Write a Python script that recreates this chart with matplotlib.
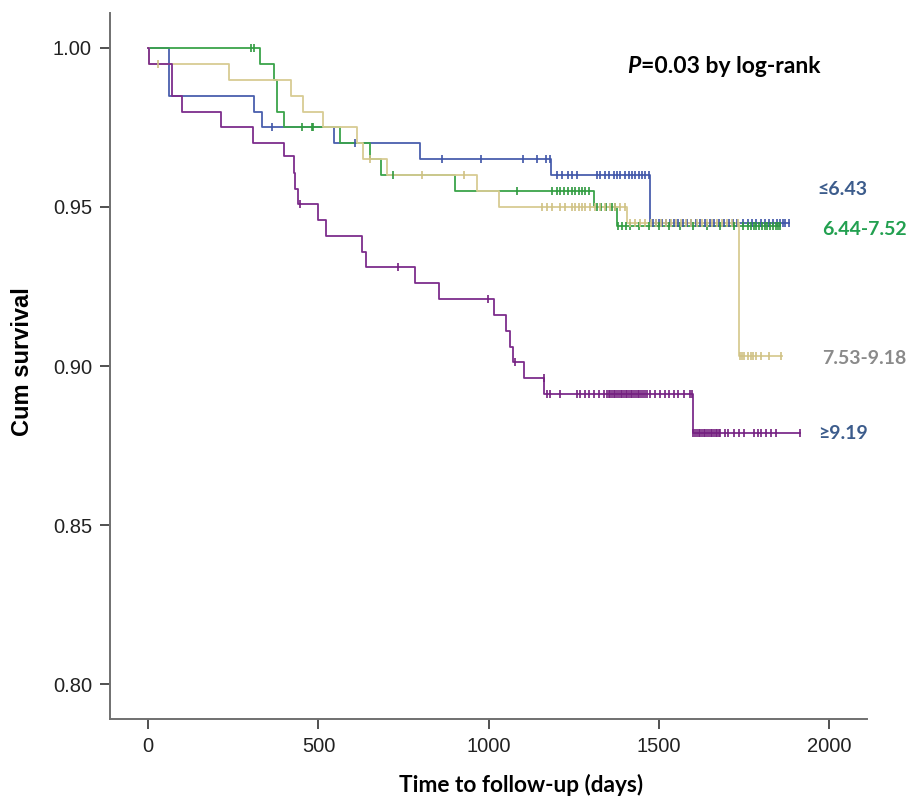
import matplotlib
matplotlib.use("Agg")
import matplotlib.pyplot as plt

# Kaplan-Meier steps: (day, cumulative survival)
blue_t = [0, 60, 311, 334, 546, 797, 1184, 1474, 1880]
blue_s = [1.000, 0.985, 0.980, 0.975, 0.970, 0.965, 0.960, 0.945, 0.945]
blue_c = [363, 608, 862, 977, 1100, 1141, 1169, 1179,
          1200, 1215, 1234, 1244, 1259, 1318, 1328, 1342, 1352, 1367, 1377, 1386,
          1401, 1411, 1421, 1430, 1440, 1450, 1460, 1470,
          1482, 1492, 1500, 1510, 1520, 1532, 1545, 1556, 1570, 1582, 1595, 1608,
          1620, 1635, 1650, 1662, 1675, 1690, 1705, 1718, 1730, 1745, 1760, 1772,
          1785, 1798, 1810, 1822, 1835, 1846, 1855, 1864, 1871, 1880]

green_t = [0, 327, 370, 378, 400, 562, 652, 683, 901, 1310, 1376, 1856]
green_s = [1.000, 0.995, 0.990, 0.980, 0.975, 0.970, 0.965, 0.960, 0.955, 0.950, 0.944, 0.944]
green_c = [301, 311, 451, 480, 483, 720, 1083,
           1185, 1200, 1210, 1220, 1232, 1244, 1254, 1264, 1274, 1284, 1293,
           1318, 1330, 1345, 1362,
           1372, 1380, 1390, 1402, 1415, 1440, 1470, 1500, 1530, 1560, 1600,
           1640, 1680, 1720, 1745, 1760, 1770, 1778, 1786, 1794, 1802, 1810,
           1818, 1826, 1834, 1842, 1850, 1856]

tan_t = [0, 3, 236, 420, 454, 512, 613, 632, 701, 965, 1029, 1405, 1734, 1861]
tan_s = [1.000, 0.995, 0.990, 0.985, 0.980, 0.975, 0.970, 0.965, 0.960, 0.955, 0.950, 0.945, 0.903, 0.903]
tan_c = [30, 650, 804, 926,
         1156, 1170, 1185, 1210, 1225, 1244, 1254, 1264, 1274, 1284, 1298, 1313,
         1328, 1342, 1357, 1372, 1386, 1401,
         1415, 1430, 1445, 1460, 1475, 1490, 1505, 1520, 1535, 1550, 1565, 1580,
         1595, 1610, 1625, 1640, 1655, 1670, 1685, 1700, 1715,
         1731, 1737, 1744, 1750, 1762, 1770, 1777, 1785, 1800, 1822, 1858]

purple_t = [0, 2, 70, 99, 214, 307, 400, 427, 432, 440, 500, 523, 629, 640,
            782, 853, 1014, 1051, 1063, 1071, 1102, 1163, 1601, 1915]
purple_s = [1.000, 0.995, 0.985, 0.980, 0.975, 0.970, 0.966, 0.9606, 0.9556, 0.9508,
            0.9459, 0.941, 0.936, 0.9312, 0.926, 0.921, 0.916, 0.911, 0.906, 0.9012,
            0.8963, 0.8912, 0.8788, 0.8788]
purple_c = [446, 733, 997, 1078,
            1161, 1171, 1180, 1210, 1259, 1269, 1284, 1294, 1308, 1323, 1337,
            1347, 1352, 1357, 1362, 1367, 1372, 1377, 1382, 1387, 1392, 1397, 1402,
            1407, 1412, 1417, 1422, 1427, 1432, 1437, 1442, 1447, 1452, 1458, 1465,
            1474, 1489, 1504, 1518, 1528, 1543, 1557, 1572, 1592,
            1596, 1601, 1606, 1611, 1616, 1621, 1626, 1631, 1636, 1641, 1646, 1651,
            1656, 1661, 1666, 1671, 1676, 1680,
            1694, 1703, 1721, 1736, 1750, 1780, 1789, 1798, 1813, 1828, 1842, 1915]

group_names = ["\u22646.43", "6.44-7.52", "7.53-9.18", "\u22659.19"]
label_y = [0.9556, 0.9428, 0.9024, 0.8788]

line_cols = ["#4a5fae", "#3aa44a", "#d8cc93", "#7d2d8c"]
mark_cols = ["#3f55a8", "#2f9a3f", "#cfc184", "#74207f"]
text_cols = ["#3c5c8c", "#22a050", "#8a8a8a", "#3c5c8c"]


def km_curve(ax, t, s, cens, lc, mc):
    ax.step(t, s, where="post", color=lc, lw=1.3, zorder=3)
    # survival at each censoring time
    cy = []
    for c in cens:
        v = s[0]
        for ti, si in zip(t, s):
            if ti <= c:
                v = si
        cy.append(v)
    ax.plot(cens, cy, ls="none", marker="|", ms=6, mew=1.2, color=mc, zorder=4)


fig = plt.figure(figsize=(9.09, 7.96), dpi=100)
ax = fig.add_axes([0.121, 0.0967, 0.833, 0.887])

curves = [(blue_t, blue_s, blue_c), (green_t, green_s, green_c),
          (tan_t, tan_s, tan_c), (purple_t, purple_s, purple_c)]
for (t, s, c), lc, mc in zip(curves, line_cols, mark_cols):
    km_curve(ax, t, s, c, lc, mc)

ax.set_xlim(-112, 2111)
ax.set_ylim(0.789, 1.011)
ax.set_xticks([0, 500, 1000, 1500, 2000])
ax.set_yticks([0.80, 0.85, 0.90, 0.95, 1.00])
ax.set_yticklabels(["0.80", "0.85", "0.90", "0.95", "1.00"])

for sp in ["top", "right"]:
    ax.spines[sp].set_visible(False)
for sp in ["left", "bottom"]:
    ax.spines[sp].set_color("#707070")
    ax.spines[sp].set_linewidth(1.4)
ax.tick_params(length=7, width=1.4, color="#505050", pad=6,
               labelsize=14.5, labelcolor="#222222")
for lab in ax.get_xticklabels() + ax.get_yticklabels():
    lab.set_family("Liberation Sans")

ax.set_ylabel("Cum survival", family="Liberation Sans", fontweight="bold",
              fontsize=17, va="center")
ax.yaxis.set_label_coords(-0.116, 0.506)
ax.set_xlabel("Time to follow-up (days)", family="Lato", fontweight="bold",
              fontsize=16.3, va="center")
ax.xaxis.set_label_coords(0.543, -0.0935)

ptxt = ax.text(1407, 0.9941, "P", family="Lato", fontweight="bold",
               fontstyle="italic", fontsize=16.5, va="center", ha="left")
ax.annotate("=0.03 by log-rank", xy=(1, 0), xycoords=ptxt, va="bottom",
            ha="left", family="Lato", fontweight="bold", fontsize=16.5)

for name, y, col, x in zip(group_names, label_y, text_cols, [1965, 1978, 1980, 1968]):
    ax.text(x, y, name, color=col, family=["Lato", "DejaVu Sans"],
            fontweight="bold", fontsize=14, va="center", ha="left")

fig.savefig("out.png", dpi=100)
